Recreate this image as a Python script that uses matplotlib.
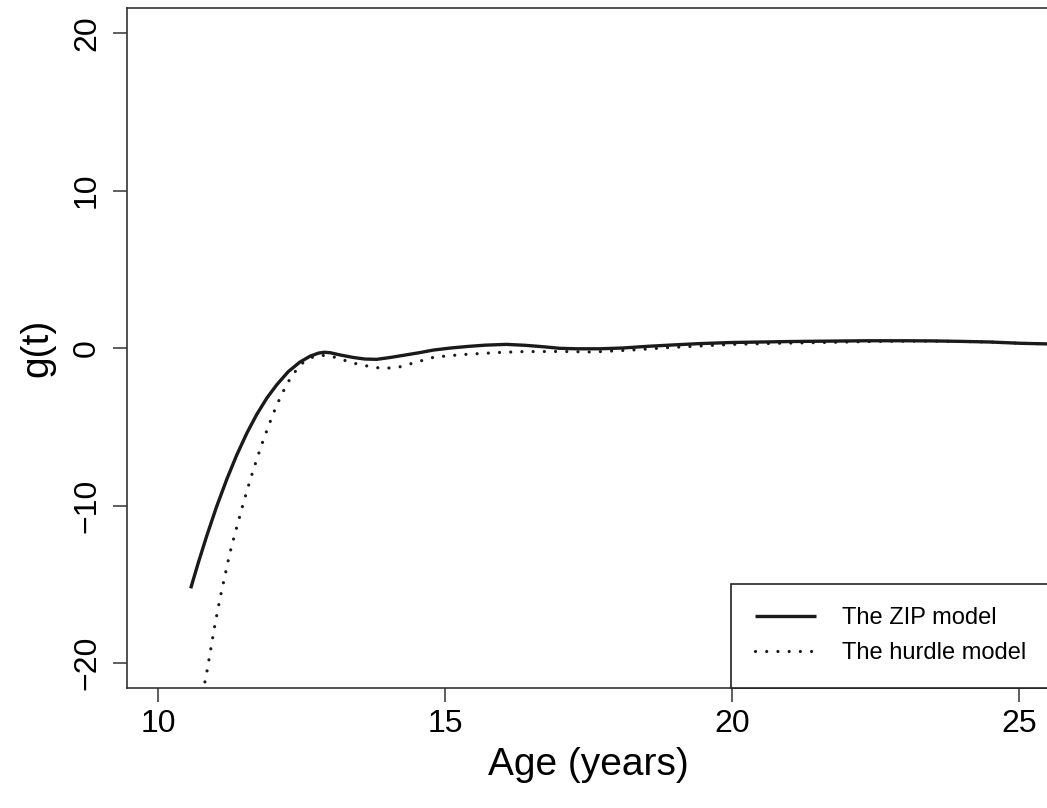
import matplotlib
matplotlib.use("Agg")
import matplotlib.pyplot as plt

plt.rcParams['font.family'] = ['Liberation Sans', 'DejaVu Sans']

# ZIP model (solid)
zip_age = [10.57, 10.7, 10.85, 11.02, 11.2, 11.37, 11.55, 11.72, 11.9, 12.07, 12.27,
           12.47, 12.65, 12.8, 12.9, 13.0, 13.17, 13.4, 13.6, 13.81, 14.05, 14.3, 14.55,
           14.8, 15.1, 15.4, 15.7, 16.07, 16.4, 16.71, 17.0, 17.3, 17.7, 18.1, 18.5,
           19.0, 19.44, 20.0, 20.5, 21.0, 21.5, 22.35, 23.0, 23.5, 24.0, 24.5, 25.02, 25.6]
zip_g = [-15.26, -13.66, -11.92, -10.08, -8.32, -6.81, -5.39, -4.22, -3.16, -2.33, -1.5,
         -0.9, -0.52, -0.32, -0.27, -0.3, -0.44, -0.6, -0.7, -0.72, -0.6, -0.45, -0.3,
         -0.13, 0.0, 0.1, 0.18, 0.23, 0.17, 0.08, -0.02, -0.05, -0.05, 0.0, 0.1,
         0.2, 0.28, 0.35, 0.38, 0.41, 0.43, 0.46, 0.46, 0.45, 0.42, 0.38, 0.3, 0.25]

# Hurdle model (dotted)
hurdle_age = [10.78, 10.85, 10.99, 11.08, 11.17, 11.25, 11.34, 11.42, 11.49, 11.58, 11.66,
              11.75, 11.83, 11.92, 12.01, 12.14, 12.27, 12.4, 12.53, 12.68, 12.82, 13.0,
              13.23, 13.5, 13.81, 14.0, 14.22, 14.5, 14.8, 15.1, 15.38, 15.96, 16.36,
              17.0, 17.53, 17.7, 18.3, 18.86, 19.4, 20.02, 20.8, 21.76, 22.5, 23.5,
              24.5, 25.02, 25.6]
hurdle_g = [-21.9, -20.6, -17.6, -15.9, -14.4, -13.05, -11.8, -10.75, -9.8, -8.7, -7.75,
            -6.75, -5.9, -5.0, -4.15, -3.05, -2.14, -1.45, -0.92, -0.6, -0.46, -0.5,
            -0.76, -1.05, -1.25, -1.28, -1.19, -0.9, -0.59, -0.48, -0.4, -0.28, -0.23,
            -0.22, -0.25, -0.23, -0.12, 0.02, 0.12, 0.23, 0.3, 0.36, 0.42, 0.44,
            0.38, 0.3, 0.25]

xticks = [10, 15, 20, 25]
yticks = [-20, -10, 0, 10, 20]

W, H = 1047, 808
fig = plt.figure(figsize=(W / 100, H / 100), dpi=100)
left, right, bottom, top = 127, 1050, 688, 8
ax = fig.add_axes([left / W, 1 - bottom / H, (right - left) / W, (bottom - top) / H])

ax.plot(zip_age, zip_g, color='#1a1a1a', lw=2.4, solid_capstyle='butt',
        solid_joinstyle='round', label='The ZIP model')
ax.plot(hurdle_age, hurdle_g, color='#1a1a1a', lw=2.3, linestyle=(0, (0.01, 3.5)),
        dash_capstyle='round', label='The hurdle model')

ax.set_xlim(9.46, 10 + (right - 158) / 57.4)
ax.set_ylim(-20 - (bottom - 663) / 15.75, 20 + (33 - top) / 15.75)

ax.set_xticks(xticks)
ax.set_yticks(yticks)
ax.set_xticklabels([str(v) for v in xticks])
ax.set_yticklabels(['\u221220', '\u221210', '0', '10', '20'], rotation=90, va='center')
ax.tick_params(axis='both', direction='out', length=10, width=1.1, color='#333333',
               labelsize=23)
ax.tick_params(axis='x', pad=5)
ax.tick_params(axis='y', pad=8)
for s in ax.spines.values():
    s.set_linewidth(1.2)
    s.set_color('#333333')
ax.spines['right'].set_visible(False)

ax.set_xlabel('Age (years)', fontsize=28, labelpad=6)
ax.set_ylabel('g(t)', fontsize=28, labelpad=12)

leg = ax.legend(loc='lower right', bbox_to_anchor=(1.0, 0.0), borderaxespad=0,
                fancybox=False, edgecolor='#222222', framealpha=1, fontsize=17,
                handlelength=2.6, handletextpad=1.1, borderpad=1.0, labelspacing=0.55)
leg.get_frame().set_linewidth(1.2)

fig.savefig('out.png', dpi=100)
